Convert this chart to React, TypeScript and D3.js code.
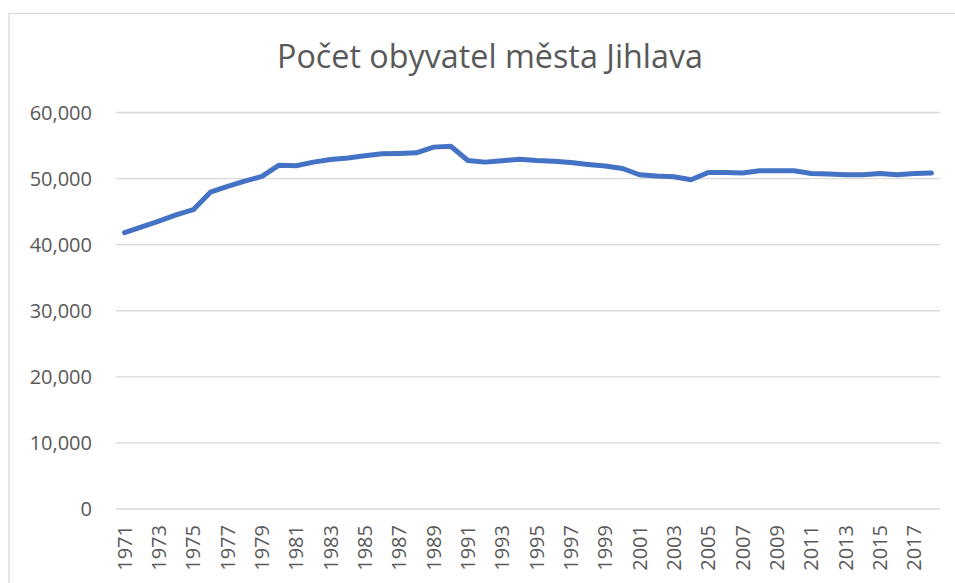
import React from "react";
import * as d3 from "d3";

const years: number[] = d3.range(1971, 2019);
const population: number[] = [
  41820, 42700, 43550, 44500, 45300, 47950, 48810, 49620, 50330, 52030,
  51940, 52490, 52890, 53100, 53450, 53750, 53800, 53900, 54760, 54900,
  52740, 52490, 52690, 52940, 52740, 52640, 52440, 52140, 51890, 51530,
  50580, 50380, 50280, 49820, 50930, 50930, 50830, 51180, 51180, 51180,
  50780, 50680, 50580, 50580, 50780, 50580, 50780, 50830,
];
const yTicks: number[] = [0, 10000, 20000, 30000, 40000, 50000, 60000];
const title = "Počet obyvatel města Jihlava";

const W = 955;
const H = 583;
const left = 116;
const right = 940;
const top = 112.5;
const bottom = 509;

export default function App() {
  const x = d3
    .scaleBand<number>()
    .domain(years)
    .range([left, right])
    .padding(0);
  const y = d3.scaleLinear().domain([0, 60000]).range([bottom, top]);
  const line = d3
    .line<number>()
    .x((_, i) => (x(years[i]) as number) + x.bandwidth() / 2)
    .y((d) => y(d));
  const fmt = d3.format(",");
  const textColor = "#595959";
  const font = "'Open Sans', 'DejaVu Sans', sans-serif";

  return (
    <svg
      width={W}
      height={H}
      style={{ position: "absolute", left: 0, top: 0, background: "#fff" }}
    >
      <rect x={0} y={0} width={W} height={H} fill="#fff" />
      <rect
        x={9}
        y={13.5}
        width={W + 20}
        height={H + 20}
        fill="#fff"
        stroke="#d9d9d9"
        strokeWidth={1.3}
      />
      <text
        x={490}
        y={67.5}
        textAnchor="middle"
        fontFamily={font}
        fontSize={32}
        fontWeight={400}
        fill={textColor}
        textLength={426}
        lengthAdjust="spacingAndGlyphs"
      >
        {title}
      </text>
      {yTicks.map((t) => (
        <g key={t}>
          <line
            x1={left}
            x2={right}
            y1={y(t)}
            y2={y(t)}
            stroke="#d9d9d9"
            strokeWidth={1.3}
          />
          <text
            x={92}
            y={y(t)}
            dy="0.35em"
            textAnchor="end"
            fontFamily={font}
            fontSize={20}
            fill={textColor}
          >
            {fmt(t)}
          </text>
        </g>
      ))}
      {years
        .filter((yr) => (yr - 1971) % 2 === 0)
        .map((yr) => {
          const cx = (x(yr) as number) + x.bandwidth() / 2;
          return (
            <text
              key={yr}
              transform={`translate(${cx},525) rotate(-90)`}
              dy="0.36em"
              textAnchor="end"
              fontFamily={font}
              fontSize={20}
              fill={textColor}
            >
              {yr}
            </text>
          );
        })}
      <path
        d={line(population) || ""}
        fill="none"
        stroke="#4472C4"
        strokeWidth={5}
        strokeLinejoin="round"
        strokeLinecap="round"
      />
    </svg>
  );
}
